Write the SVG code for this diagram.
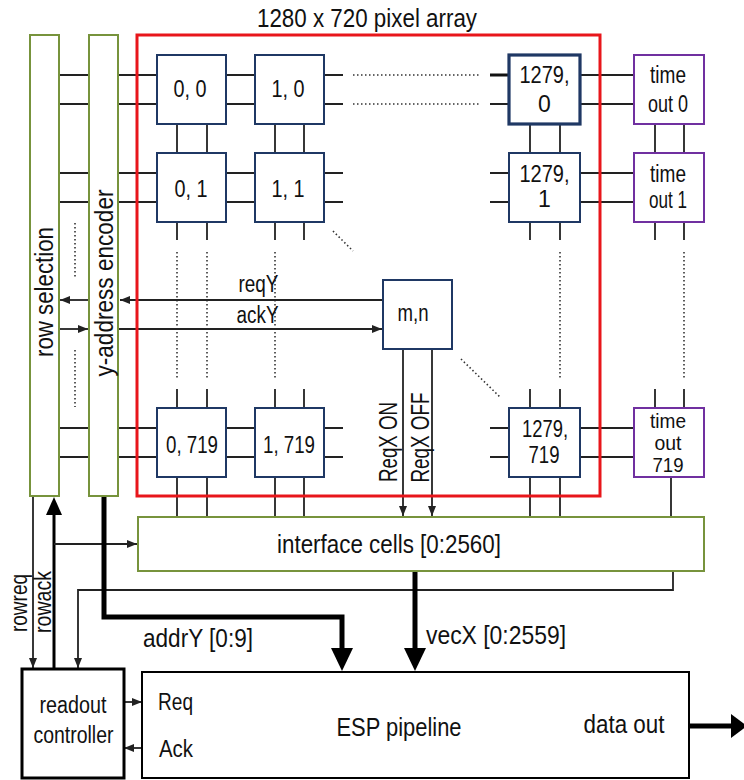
<svg xmlns="http://www.w3.org/2000/svg" width="744" height="780" viewBox="0 0 744 780">
<style>
text{font-family:"Liberation Sans",Arial,sans-serif;fill:#111;}
.px{fill:#fff;stroke:#1F3864;stroke-width:2;}
.px3{fill:#fff;stroke:#1F3864;stroke-width:3.2;}
.to{fill:#fff;stroke:#7030A0;stroke-width:2;}
.gr{fill:#fff;stroke:#77933C;stroke-width:2;}
.w{fill:none;stroke:#222;stroke-width:1.8;}
.d{fill:none;stroke:#333;stroke-width:1.6;stroke-dasharray:1.5 2.5;}
.k{fill:none;stroke:#000;stroke-width:5;}
.f22{font-size:23px;}
.f24{font-size:25px;}
.f20{font-size:21px;}
</style>
<defs>
<marker id="a" viewBox="0 0 10 8" refX="10" refY="4" markerWidth="10" markerHeight="8" markerUnits="userSpaceOnUse" orient="auto"><path d="M0,0L10,4L0,8z" fill="#222"/></marker>
</defs>

<g id="connectors">
<path class="w" d="M59,75H89M118,75H157M226,75H255M324,75H343M580,75H634
M59,104H89M118,104H157M226,104H255M324,104H343M490,104H509M580,104H634
M59,173H89M118,173H157M226,173H255M324,173H343M490,173H509M580,173H634
M59,202H89M118,202H157M226,202H255M324,202H343M490,202H509M580,202H634
M59,428H89M118,428H157M226,428H255M324,428H343M490,428H509M580,428H634
M59,457H89M118,457H157M226,457H255M324,457H343M490,457H509M580,457H634"/>
<path d="M490,75H509" fill="none" stroke="#111" stroke-width="3"/>
<path class="d" d="M353,75H480M353,104H480"/>
<path class="w" d="M177,124V153M207,124V153M275,124V153M304,124V153M530,124V153M560,124V153M655,124V153M684,124V153
M177,222V240M207,222V240M275,222V240M304,222V240M530,222V240M560,222V240M655,222V240M684,222V240
M177,389V408M207,389V408M275,389V408M304,389V408M530,389V408M560,389V408M655,389V408M684,389V408
M177,477V517M207,477V517M275,477V517M304,477V517M530,477V517M560,477V517M671,477V517"/>
<path class="d" d="M177,252V378M207,252V378M275,252V378M560,252V378M684,252V378M75,223V278M75,350V407M333,231L353,251M461,359L501,398"/>
<path class="w" d="M383,300H120" marker-end="url(#a)"/>
<path class="w" d="M89,300H60" marker-end="url(#a)"/>
<path class="w" d="M59,329H88" marker-end="url(#a)"/>
<path class="w" d="M118,329H382" marker-end="url(#a)"/>
<path class="w" d="M403,349V516" marker-end="url(#a)"/>
<path class="w" d="M432,349V516" marker-end="url(#a)"/>
<path class="w" d="M33,496V668" marker-end="url(#a)"/>
<path d="M54,669V512" fill="none" stroke="#000" stroke-width="3"/>
<polygon points="46,515 62,515 54,497" fill="#000"/>
<path class="w" d="M54,544H137" marker-end="url(#a)"/>
<path class="w" d="M673,571V590H78V668" marker-end="url(#a)"/>
<path class="w" d="M124,702H142" marker-end="url(#a)"/>
<path class="w" d="M142,748H124" marker-end="url(#a)"/>
<path class="k" d="M104,496V617H342V650"/>
<polygon points="331,648 353,648 342,671" fill="#000"/>
<path class="k" d="M415,571V650"/>
<polygon points="404,648 426,648 415,671" fill="#000"/>
<path class="k" d="M689,726H733"/>
<polygon points="731,714 731,738 747,726" fill="#000"/>
<text class="f24" x="143" y="647" textLength="110" lengthAdjust="spacingAndGlyphs">addrY [0:9]</text>
<text class="f24" x="426" y="644" textLength="140" lengthAdjust="spacingAndGlyphs">vecX [0:2559]</text>
<text class="f22" x="258.5" y="292" text-anchor="middle" textLength="40" lengthAdjust="spacingAndGlyphs">reqY</text>
<text class="f22" x="257.5" y="323" text-anchor="middle" textLength="42" lengthAdjust="spacingAndGlyphs">ackY</text>
<text class="f24" transform="translate(397,442) rotate(-90)" text-anchor="middle" textLength="80" lengthAdjust="spacingAndGlyphs">ReqX ON</text>
<text class="f24" transform="translate(429,437.5) rotate(-90)" text-anchor="middle" textLength="90" lengthAdjust="spacingAndGlyphs">ReqX OFF</text>
<text class="f22" transform="translate(27,603) rotate(-90)" text-anchor="middle" textLength="58" lengthAdjust="spacingAndGlyphs">rowreq</text>
<text class="f22" transform="translate(51,602) rotate(-90)" text-anchor="middle" textLength="62" lengthAdjust="spacingAndGlyphs">rowack</text>
</g>

<g id="row-selection">
<rect class="gr" x="30" y="35" width="29" height="461"/>
<text class="f24" transform="translate(53,292) rotate(-90)" text-anchor="middle" textLength="130" lengthAdjust="spacingAndGlyphs">row selection</text>
</g>
<g id="y-address-encoder">
<rect class="gr" x="89" y="35" width="29" height="461"/>
<text class="f24" transform="translate(113,283) rotate(-90)" text-anchor="middle" textLength="187" lengthAdjust="spacingAndGlyphs">y-address encoder</text>
</g>
<g id="pixel-array">
<rect x="137" y="35" width="463" height="461" fill="none" stroke="#E8161B" stroke-width="3"/>
<text class="f24" x="367" y="27" text-anchor="middle" textLength="220" lengthAdjust="spacingAndGlyphs">1280 x 720 pixel array</text>
</g>

<g id="px-0-0"><rect class="px" x="157" y="55" width="69" height="69"/><text class="f22" x="190" y="97" text-anchor="middle" textLength="33" lengthAdjust="spacingAndGlyphs">0, 0</text></g>
<g id="px-1-0"><rect class="px" x="255" y="55" width="69" height="69"/><text class="f22" x="288" y="97" text-anchor="middle" textLength="33" lengthAdjust="spacingAndGlyphs">1, 0</text></g>
<g id="px-1279-0"><rect class="px3" x="509" y="55" width="71" height="69"/><text class="f22" x="544.5" y="83" text-anchor="middle" textLength="50" lengthAdjust="spacingAndGlyphs">1279,</text><text class="f22" x="544.5" y="112" text-anchor="middle">0</text></g>
<g id="px-0-1"><rect class="px" x="157" y="153" width="69" height="69"/><text class="f22" x="191" y="197" text-anchor="middle" textLength="33" lengthAdjust="spacingAndGlyphs">0, 1</text></g>
<g id="px-1-1"><rect class="px" x="255" y="153" width="69" height="69"/><text class="f22" x="288" y="197" text-anchor="middle" textLength="33" lengthAdjust="spacingAndGlyphs">1, 1</text></g>
<g id="px-1279-1"><rect class="px" x="509" y="153" width="71" height="69"/><text class="f22" x="544.5" y="182" text-anchor="middle" textLength="50" lengthAdjust="spacingAndGlyphs">1279,</text><text class="f22" x="544.5" y="207" text-anchor="middle">1</text></g>
<g id="px-m-n"><rect class="px" x="383" y="280" width="69" height="69"/><text class="f22" x="413" y="321" text-anchor="middle" textLength="31" lengthAdjust="spacingAndGlyphs">m,n</text></g>
<g id="px-0-719"><rect class="px" x="157" y="408" width="69" height="69"/><text class="f22" x="192" y="453" text-anchor="middle" textLength="52" lengthAdjust="spacingAndGlyphs">0, 719</text></g>
<g id="px-1-719"><rect class="px" x="255" y="408" width="69" height="69"/><text class="f22" x="289" y="453" text-anchor="middle" textLength="52" lengthAdjust="spacingAndGlyphs">1, 719</text></g>
<g id="px-1279-719"><rect class="px" x="509" y="408" width="71" height="69"/><text class="f22" x="545" y="437" text-anchor="middle" textLength="46" lengthAdjust="spacingAndGlyphs">1279,</text><text class="f22" x="544" y="463" text-anchor="middle" textLength="31" lengthAdjust="spacingAndGlyphs">719</text></g>

<g id="timeout-0"><rect class="to" x="634" y="55" width="70" height="69"/><text class="f22" x="668" y="83" text-anchor="middle" textLength="36" lengthAdjust="spacingAndGlyphs">time</text><text class="f22" x="668" y="112" text-anchor="middle" textLength="40" lengthAdjust="spacingAndGlyphs">out 0</text></g>
<g id="timeout-1"><rect class="to" x="634" y="153" width="70" height="69"/><text class="f22" x="668" y="182" text-anchor="middle" textLength="36" lengthAdjust="spacingAndGlyphs">time</text><text class="f22" x="668" y="208" text-anchor="middle" textLength="38" lengthAdjust="spacingAndGlyphs">out 1</text></g>
<g id="timeout-719"><rect class="to" x="634" y="408" width="70" height="69"/><text class="f20" x="668" y="428" text-anchor="middle" textLength="36" lengthAdjust="spacingAndGlyphs">time</text><text class="f20" x="668" y="450" text-anchor="middle" textLength="27" lengthAdjust="spacingAndGlyphs">out</text><text class="f20" x="668" y="472" text-anchor="middle" textLength="31" lengthAdjust="spacingAndGlyphs">719</text></g>

<g id="interface-cells">
<rect class="gr" x="138" y="517" width="566" height="54"/>
<text class="f24" x="389" y="553" text-anchor="middle" textLength="224" lengthAdjust="spacingAndGlyphs">interface cells [0:2560]</text>
</g>
<g id="readout-controller">
<rect x="22" y="669" width="102" height="109" fill="#fff" stroke="#000" stroke-width="3"/>
<text class="f22" x="73" y="713" text-anchor="middle" textLength="67" lengthAdjust="spacingAndGlyphs">readout</text>
<text class="f22" x="73.5" y="743" text-anchor="middle" textLength="80" lengthAdjust="spacingAndGlyphs">controller</text>
</g>
<g id="esp-pipeline">
<rect x="142" y="672" width="547" height="106" fill="#fff" stroke="#000" stroke-width="2"/>
<text class="f22" x="158" y="710" textLength="35" lengthAdjust="spacingAndGlyphs">Req</text>
<text class="f22" x="159" y="757" textLength="34" lengthAdjust="spacingAndGlyphs">Ack</text>
<text class="f24" x="399" y="736" text-anchor="middle" textLength="125" lengthAdjust="spacingAndGlyphs">ESP pipeline</text>
<text class="f24" x="624" y="733" text-anchor="middle" textLength="81" lengthAdjust="spacingAndGlyphs">data out</text>
</g>
</svg>
